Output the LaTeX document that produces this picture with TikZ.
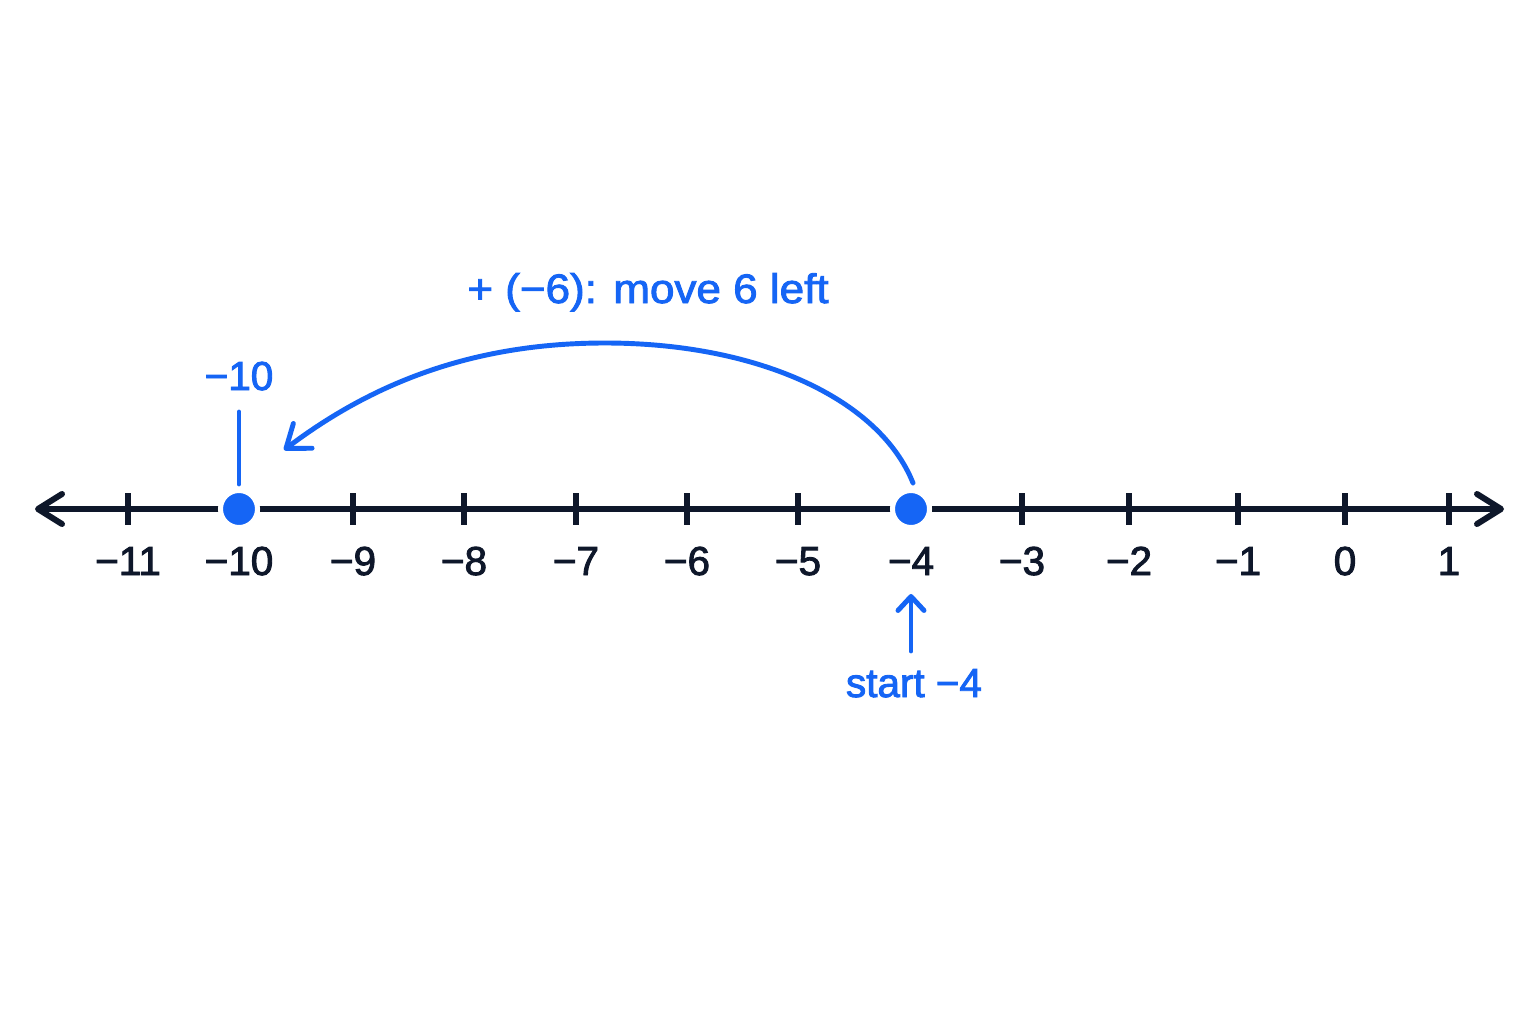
\documentclass[tikz,border=0pt]{standalone}
\usepackage{fontspec}
\usetikzlibrary{arrows.meta}
\definecolor{mblue}{RGB}{21,101,245}
\definecolor{mdark}{RGB}{14,23,42}
\newfontfamily\lblfont[FakeBold=2.2]{Liberation Sans}
\newfontfamily\topfont[FakeBold=2.2,FakeStretch=1.07]{Liberation Sans}
\tikzset{
  axisline/.style={draw=mdark,line width=1.7pt,
    {Straight Barb[length=2.4mm,width=3mm,round]}-{Straight Barb[length=2.4mm,width=3mm,round]}},
  tickmark/.style={draw=mdark,line width=1.5pt},
  numlbl/.style={anchor=base,text=mdark,inner sep=0pt,font=\lblfont\fontsize{11.5pt}{13pt}\selectfont},
  bluelbl/.style={anchor=base,text=mblue,inner sep=0pt,font=\lblfont\fontsize{11.5pt}{13pt}\selectfont},
  toplbl/.style={anchor=base,text=mblue,inner sep=0pt,font=\topfont\fontsize{11.7pt}{13pt}\selectfont},
  bdot/.style={circle,fill=mblue,draw=white,line width=0.05cm,minimum size=0.37cm,inner sep=0pt},
  jump/.style={draw=mblue,line width=1.4pt,line cap=round,
    -{Straight Barb[length=2.1mm,width=3.1mm,round]}},
  uparrow/.style={draw=mblue,line width=1.4pt,line cap=round,
    -{Straight Barb[length=1.4mm,width=2.6mm,round]}},
  bline/.style={draw=mblue,line width=1.4pt,line cap=round},
}
\begin{document}
\begin{tikzpicture}[x=0.01cm,y=-0.01cm]
\fill[white] (0,0) rectangle (1536,1024);
\useasboundingbox (0,0) rectangle (1536,1024);
% axis
\coordinate (axL) at (35,509);
\coordinate (axR) at (1504,509);
\draw[axisline] (axL) -- (axR);
% ticks and labels
\foreach \nm/\px/\tx in {m11/128/−11,m9/353/−9,m8/464/−8,m7/576/−7,m6/687/−6,m5/798/−5,m3/1022/−3,m2/1129/−2,m1/1238/−1,z0/1345/0,p1/1449/1}{
  \draw[tickmark] (\px,493) -- (\px,525);
}
\foreach \nm/\px/\tx in {m11/128/−11,m10/239/−10,m9/353/−9,m8/464/−8,m7/576/−7,m6/687/−6,m5/798/−5,m4/911/−4,m3/1022/−3,m2/1129/−2,m1/1238/−1,z0/1345/0,p1/1449/1}{
  \node[numlbl] (lbl\nm) at (\px,575) {\tx};
}
% dots
\node[bdot] (d10) at (239,509) {};
\node[bdot] (d4) at (911,509) {};
% -10 marker
\node[bluelbl] (top10) at (239,390) {−10};
\coordinate (v10a) at (239,484);
\coordinate (v10b) at (239,412);
\draw[bline] (v10a) -- (v10b);
% jump arrow
\coordinate (jstart) at (913,483);
\coordinate (jpeak) at (605,343);
\coordinate (jend) at (284,450);
\draw[jump] (jstart) .. controls (880,400) and (760,343) .. (jpeak)
  .. controls (470,343) and (370,385) .. (jend);
\node[toplbl] (jlbl) at (648,303) {+ (−6): move 6 left};
% start arrow
\coordinate (sa) at (911,651);
\coordinate (sb) at (911,594);
\draw[uparrow] (sa) -- (sb);
\node[bluelbl] (slbl) at (914,697) {start −4};
\end{tikzpicture}
\end{document}
